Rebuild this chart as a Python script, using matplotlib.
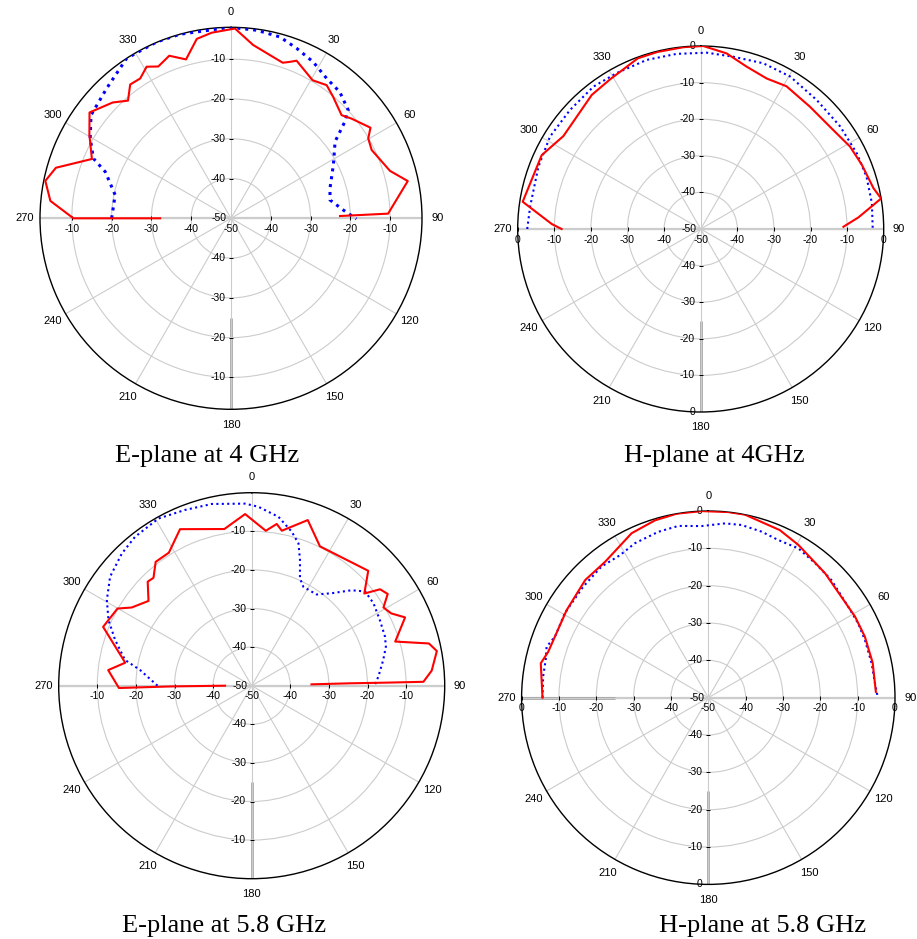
import numpy as np
import matplotlib.pyplot as plt

plt.rcParams['font.family'] = ['Liberation Sans', 'DejaVu Sans']

# angles in degrees, clockwise from top (negative = 270..360 side), gain in dB
e4_red_ang = [-90, -90, -84.5, -78.6, -73.9, -66.9, -59.5, -53.2, -45.6, -41.2, -37, -33, -29.1, -25.6,
              -20.8, -15.8, -10.8, -5.9, 1.2, 7.3, 18.4, 20.6, 22.6, 30.6, 35.7, 40, 47, 50.4, 57,
              59.8, 64.1, 73.4, 78.1, 88.3, 88.8]
e4_red_db = [-32.2, -10.4, -4.4, -2.4, -4.2, -12.0, -8.7, -5.6, -8.4, -10.7, -7.9, -8.1, -6.4, -7.7,
             -6.3, -8.5, -4.1, -3.1, -2.3, -6.1, -8.8, -8.0, -7.1, -9.7, -8.8, -10.1, -12.0, -10.7, -8.2,
             -10.1, -10.7, -8.3, -4.6, -10.5, -22.6]
e4_blue_ang = [-90, -78.6, -69.7, -66.5, -60.4, -53.6, -43.7, -33.1, -22.8, -15.5, -0.3, 7.8, 15.1,
               21.1, 27.7, 34.3, 40.7, 47.3, 49.7, 53.6, 62.5, 73.1, 79.5, 85.8, 90.3]
e4_blue_db = [-20.0, -20.3, -16.3, -12.3, -9.3, -6.3, -4.8, -2.0, -1.9, -2.0, -2.0, -2.3, -2.8,
              -4.2, -5.6, -7.4, -8.1, -9.9, -12.5, -17.5, -21.0, -24.0, -24.7, -21.7, -18.5]

h4_red_ang = [-90, -88.1, -81.3, -65.1, -55.9, -39.1, -31.2, -20.2, -13.8, -5.4, 0.8, 8.4, 15.8,
              23.7, 31, 41.8, 53.3, 61.1, 68.3, 76.7, 80.4, 85.8, 89.1]
h4_red_db = [-12.0, -9.3, -0.8, -2.1, -4.7, -2.8, -2.2, -0.3, -0.2, -0.1, 0.0, -1.5, -3.9,
             -5.1, -4.5, -5.2, -4.8, -3.4, -2.6, -1.5, 0.0, -6.8, -11.0]
h4_blue_ang = [-90, -82.5, -69, -58.5, -47.7, -37, -28.4, -17.7, -7.8, 2, 10.7, 20.7, 30.4, 42,
               53.7, 64.1, 72.5, 81.5, 90]
h4_blue_db = [-2.6, -3.0, -2.5, -1.7, -1.7, -1.3, -1.6, -1.5, -1.7, -1.8, -2.1, -1.6, -1.7, -2.6,
              -2.7, -2.6, -2.5, -2.7, -3.0]

e58_red_ang = [-90, -90.5, -91, -83.8, -79.7, -68.4, -60.1, -56.9, -50.6, -45, -42.3, -37.8, -31.9,
               -24.6, -9.9, -2.2, 5.2, 8.8, 11, 18.7, 26.1, 45.4, 50.7, 53.1, 56, 59.3, 62.6, 66,
               72.9, 76.6, 79.4, 85.2, 88.7, 88.7, 88.6, 88.7]
e58_red_db = [-43.1, -29.3, -15.6, -12.6, -16.7, -8.6, -9.9, -12.9, -15.4, -11.9, -12.2, -9.4, -9.4,
              -5.4, -8.8, -5.5, -9.7, -7.6, -9.1, -4.7, -9.8, -7.6, -12.3, -8.4, -7.5, -10.3, -9.3, -6.5,
              -11.1, -2.8, -1.2, -3.2, -5.5, -15.0, -24.5, -34.5]
e58_blue_ang = [-90, -82, -78.5, -71.5, -65.4, -59.4, -52.4, -44.5, -38.1, -29.2, -20.8, -12.4, -2.1,
                2.1, 9, 14.6, 18.2, 21, 24.2, 27.6, 35.4, 40.9, 46.3, 50.3, 55.9, 62.9, 69.8, 73.8,
                79, 85.9, 90]
e58_blue_db = [-25.6, -20.8, -16.5, -12.7, -9.2, -6.4, -3.7, -2.0, -1.0, -0.4, -1.3, -1.8, -2.8,
               -3.6, -5.7, -8.8, -11.2, -15.1, -19.5, -21.1, -21.0, -18.3, -14.2, -11.8, -11.9, -12.7,
               -13.2, -13.8, -15.3, -17.1, -18.2]

h58_red_ang = [-90, -78.4, -74, -58.3, -46.3, -37.2, -25, -16.7, -9.7, -2, 6.1, 11.3, 23.1, 30.5,
               43.2, 61.1, 68.7, 78, 88]
h58_red_db = [-5.6, -4.2, -5.4, -5.4, -4.4, -4.3, -1.4, -0.4, 0.0, 0.0, 0.0, 0.0, -1.2, -2.5,
              -4.3, -5.1, -5.0, -5.0, -5.1]
h58_blue_ang = [-90, -82.7, -77, -72.5, -68.3, -59.5, -48.4, -39.2, -31.8, -25.4, -16.8, -9.9, -2.2,
                5.5, 10.9, 17.8, 23.9, 31.1, 38.5, 46.3, 57, 63.6, 69.8, 78.1, 85.1, 90]
h58_blue_db = [-5.6, -5.4, -5.3, -4.6, -5.8, -5.4, -5.2, -4.7, -5.1, -4.2, -3.6, -3.3, -4.0,
               -3.1, -2.9, -3.3, -3.8, -3.3, -4.0, -4.4, -5.3, -5.2, -5.3, -5.3, -5.2, -4.6]

titles = ['E-plane at 4 GHz', 'H-plane at 4GHz', 'E-plane at 5.8 GHz', 'H-plane at 5.8 GHz']
rtick_vals = [-40, -30, -20, -10]
theta_labels = ['0', '30', '60', '90', '120', '150', '180', '210', '240', '270', '300', '330']

W, H = 917, 939
fig = plt.figure(figsize=(W / 100, H / 100), dpi=100)

# (center x, center y, radius px, rmax dB, show 0 labels, dot lw)
panels = [
    (231, 218.3, 191, -2, False, 2.2),
    (700.7, 229, 183, 0, True, 1.5),
    (251.7, 685.7, 193, 0, False, 1.5),
    (708.3, 697.7, 186.7, 0, True, 1.5),
]
curves = [
    (e4_red_ang, e4_red_db, e4_blue_ang, e4_blue_db),
    (h4_red_ang, h4_red_db, h4_blue_ang, h4_blue_db),
    (e58_red_ang, e58_red_db, e58_blue_ang, e58_blue_db),
    (h58_red_ang, h58_red_db, h58_blue_ang, h58_blue_db),
]
caption_pos = [(207.5, 462), (714.5, 462), (224, 932), (763, 932)]

gcol = '#cccccc'
for i, (cx, cy, rad, rmax, zero, dlw) in enumerate(panels):
    ax = fig.add_axes([(cx - rad) / W, 1 - (cy + rad) / H, 2 * rad / W, 2 * rad / H], projection='polar')
    ax.set_theta_zero_location('N')
    ax.set_theta_direction(-1)
    ax.set_ylim(-50, rmax)
    ax.set_thetagrids(range(0, 360, 30), labels=theta_labels, fontsize=8)
    ax.set_rgrids(rtick_vals, labels=['' for v in rtick_vals])
    ax.grid(True, color=gcol, lw=0.8)
    ax.tick_params(axis='x', direction='inout', length=5, pad=1.5, color='k')
    ax.spines['polar'].set_color('k')
    ax.spines['polar'].set_linewidth(1.0)

    # axis lines and the heavier grey segments of the original
    ax.plot(np.deg2rad([90, 90]), [-50, rmax], color=gcol, lw=1.6, zorder=1)
    ax.plot(np.deg2rad([-90, -90]), [-50, rmax], color=gcol, lw=1.6, zorder=1)
    ax.plot([np.pi, np.pi], [-25, rmax], color='#a8a8a8', lw=2, zorder=1, solid_capstyle='butt')
    if i == 3:
        ax.plot(np.deg2rad([-90, -90]), [-25, rmax], color='#a8a8a8', lw=2, zorder=1, solid_capstyle='butt')

    # radial tick labels
    vals = list(rtick_vals)
    if zero:
        vals = vals + [0]
    for v in vals:
        s = '%d' % v
        ax.annotate(s, xy=(0, v), xytext=(-4, 0), textcoords='offset points', ha='right', va='center', fontsize=7.5)
        ax.annotate(s, xy=(np.pi, v), xytext=(-4, 0), textcoords='offset points', ha='right', va='center', fontsize=7.5)
        ax.annotate(s, xy=(-np.pi / 2, v), xytext=(0, -4), textcoords='offset points', ha='center', va='top', fontsize=7.5)
        ax.annotate(s, xy=(np.pi / 2, v), xytext=(0, -4), textcoords='offset points', ha='center', va='top', fontsize=7.5)
        ax.plot([0, np.pi], [v, v], ls='none', marker='_', ms=3.5, mew=0.7, color='k')
        ax.plot([-np.pi / 2, np.pi / 2], [v, v], ls='none', marker='|', ms=3.5, mew=0.7, color='k')
    ax.annotate('-50', xy=(0, -50), xytext=(-3, 0), textcoords='offset points', ha='right', va='center', fontsize=7.5)
    ax.annotate('-50', xy=(0, -50), xytext=(0, -4), textcoords='offset points', ha='center', va='top', fontsize=7.5)

    ra, rd, ba, bd = curves[i]
    ax.plot(np.deg2rad(ba), bd, color='#0000ff', lw=dlw, ls=(0, (1, 1.6)), zorder=3)
    ax.plot(np.deg2rad(ra), rd, color='#ff0000', lw=1.5, zorder=4)

    tx, ty = caption_pos[i]
    fig.text(tx / W, 1 - ty / H, titles[i], ha='center', va='baseline', fontsize=19, family='Liberation Serif')

fig.savefig('out.png', dpi=100)
